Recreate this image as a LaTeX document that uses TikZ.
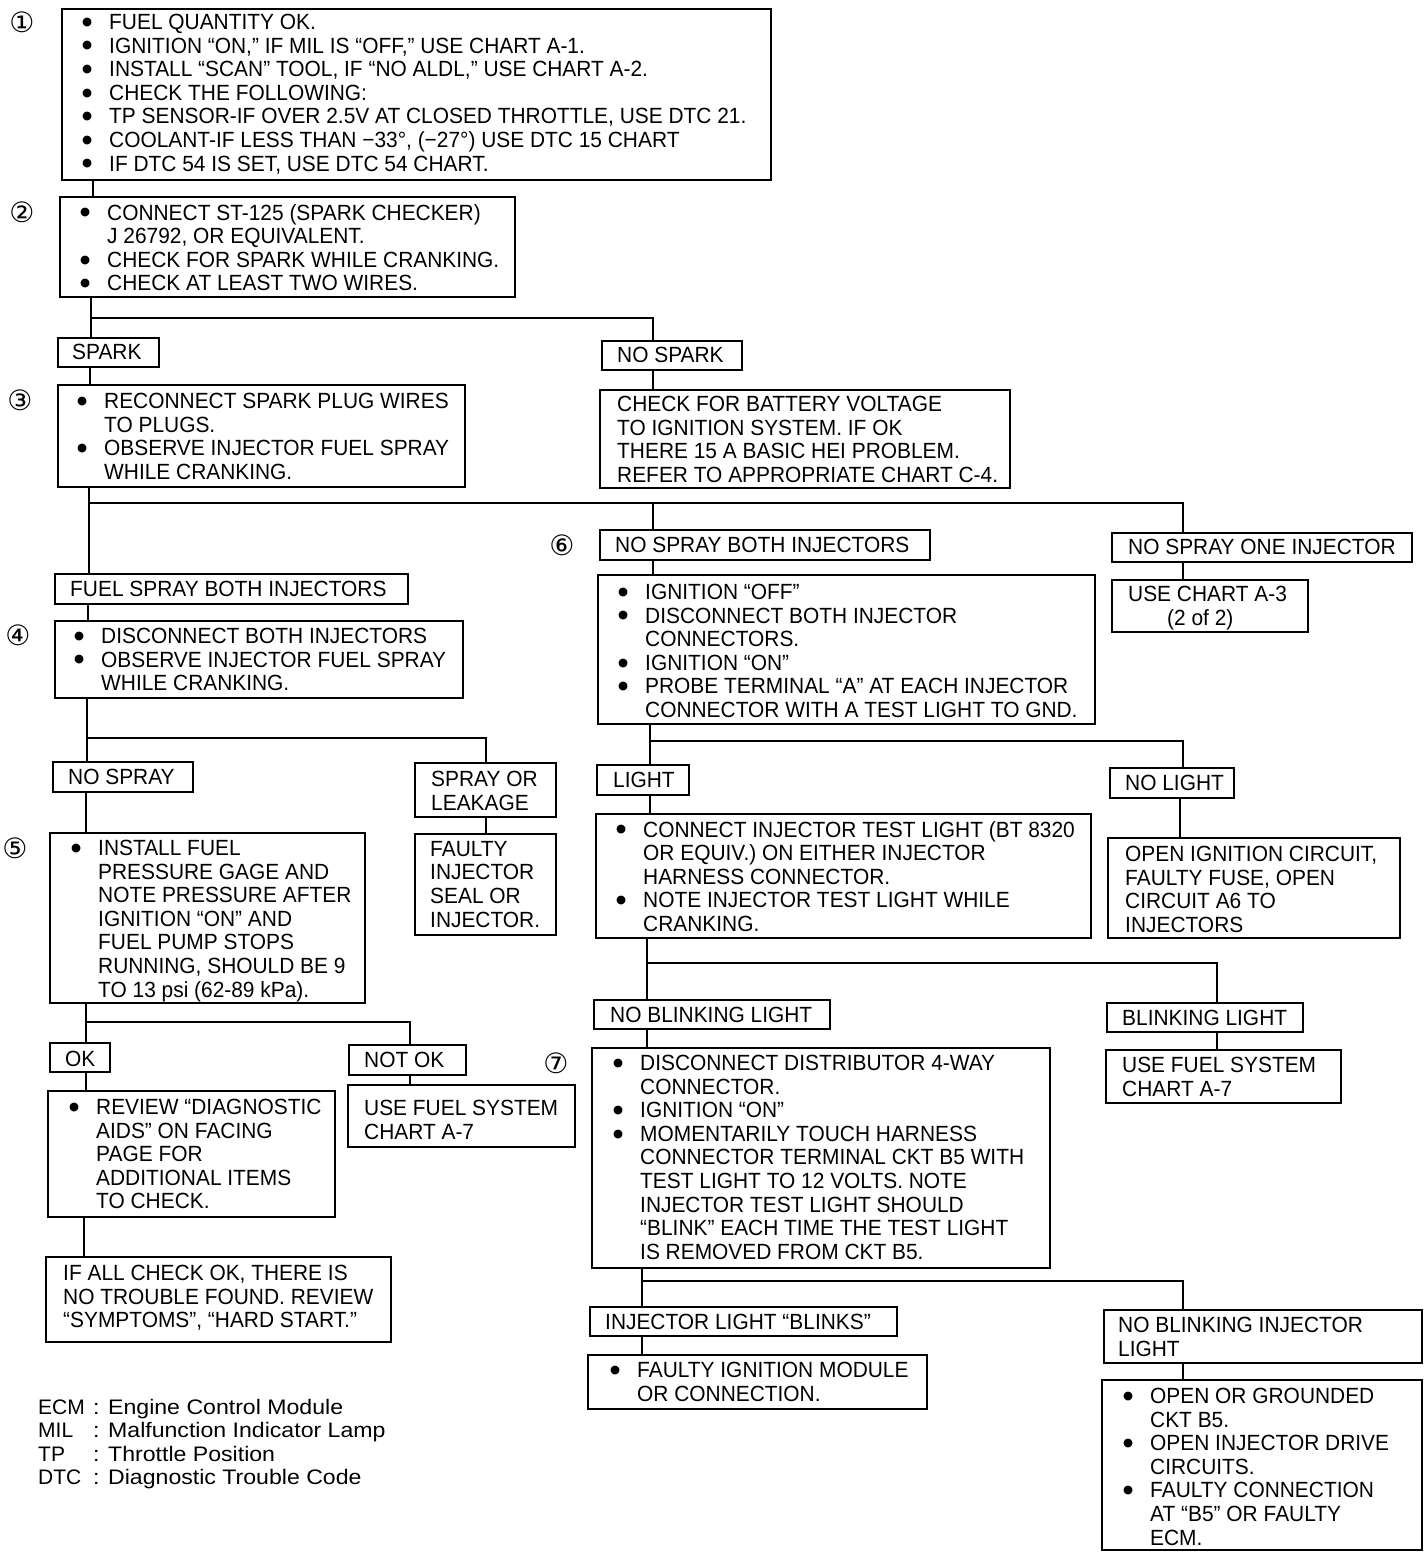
\documentclass[tikz,border=0pt]{standalone}
\usepackage{fontspec}
\setmainfont[FakeStretch=0.95]{Liberation Sans}
\newfontfamily\circfont{DejaVu Sans}
\newfontfamily\legfont[FakeStretch=1.1]{Liberation Sans}
\newfontfamily\abbrfont{Liberation Sans}
\usetikzlibrary{calc}
\newcommand{\mkbox}[5]{\node[boxst, minimum width={#4-#2}, minimum height={#5-#3}] (#1) at (#2,#3) {};}
\newcommand{\mktx}[4]{\node[txt] (#1) at (#2,#3) {#4};}
\newcommand{\bul}{\llap{\raisebox{4.2pt}{\circfont\fontsize{11.5}{11.5}\selectfont ●}\hspace{17pt}}}
\newcommand{\abbr}[1]{\makebox[55pt][l]{\abbrfont #1}}
\begin{document}
\begin{tikzpicture}[x=1pt,y=-1pt,
  boxst/.style={draw, line width=1.6pt, inner sep=0pt, outer sep=0pt, anchor=north west},
  txt/.style={anchor=north west, inner sep=0pt, align=left, font=\fontsize{22}{23.6}\selectfont},
  conn/.style={line width=1.6pt},
  num/.style={font=\circfont\fontsize{28}{28}\selectfont, inner sep=0pt},
  leg/.style={anchor=north west, inner sep=0pt, align=left, font=\legfont\fontsize{21}{23.3}\selectfont}]
\fill[white] (0,0) rectangle (1424,1560);
\useasboundingbox (0,0) rectangle (1424,1560);

% boxes
\mkbox{b1}{62}{9}{771}{180}
\mkbox{b2}{60}{197}{515}{297}
\mkbox{spark}{58}{338}{159}{367}
\mkbox{nospark}{602}{341}{742}{370}
\mkbox{b3}{58}{385}{465}{487}
\mkbox{hei}{600}{390}{1010}{488}
\mkbox{nsboth}{600}{530}{930}{560}
\mkbox{nsone}{1112}{533}{1412}{562}
\mkbox{fsboth}{55}{574}{408}{604}
\mkbox{b4}{55}{621}{463}{698}
\mkbox{b6}{598}{575}{1095}{724}
\mkbox{a3}{1112}{580}{1308}{632}
\mkbox{nospray}{53}{762}{193}{792}
\mkbox{leak}{415}{763}{556}{817}
\mkbox{b5}{50}{833}{365}{1003}
\mkbox{faulty}{415}{834}{556}{935}
\mkbox{light}{597}{765}{689}{795}
\mkbox{nolight}{1110}{768}{1234}{798}
\mkbox{blight}{596}{814}{1091}{938}
\mkbox{openign}{1108}{838}{1400}{938}
\mkbox{ok}{50}{1043}{110}{1072}
\mkbox{notok}{349}{1045}{466}{1075}
\mkbox{review}{48}{1091}{335}{1217}
\mkbox{aseven}{348}{1085}{575}{1147}
\mkbox{noblink}{594}{1000}{830}{1029}
\mkbox{blink}{1107}{1003}{1303}{1032}
\mkbox{b7}{592}{1048}{1050}{1268}
\mkbox{asevenb}{1106}{1050}{1341}{1103}
\mkbox{ifall}{46}{1257}{391}{1342}
\mkbox{blinks}{590}{1307}{897}{1336}
\mkbox{fim}{588}{1355}{927}{1409}
\mkbox{nbil}{1104}{1310}{1422}{1363}
\mkbox{final}{1102}{1380}{1422}{1550}

% texts
\mktx{t1}{109}{14}{\bul FUEL QUANTITY OK.\\
\bul IGNITION “ON,” IF MIL IS “OFF,” USE CHART A-1.\\
\bul INSTALL “SCAN” TOOL, IF “NO ALDL,” USE CHART A-2.\\
\bul CHECK THE FOLLOWING:\\
\bul TP SENSOR-IF OVER 2.5V AT CLOSED THROTTLE, USE DTC 21.\\
\bul COOLANT-IF LESS THAN −33°, (−27°) USE DTC 15 CHART\\
\bul IF DTC 54 IS SET, USE DTC 54 CHART.}
\mktx{t2}{107}{204}{\bul CONNECT ST-125 (SPARK CHECKER)\\
J 26792, OR EQUIVALENT.\\
\bul CHECK FOR SPARK WHILE CRANKING.\\
\bul CHECK AT LEAST TWO WIRES.}
\mktx{tspark}{72}{344}{SPARK}
\mktx{tnospark}{617}{347}{NO SPARK}
\mktx{t3}{104}{393}{\bul RECONNECT SPARK PLUG WIRES\\
TO PLUGS.\\
\bul OBSERVE INJECTOR FUEL SPRAY\\
WHILE CRANKING.}
\mktx{thei}{617}{396}{CHECK FOR BATTERY VOLTAGE\\
TO IGNITION SYSTEM. IF OK\\
THERE 15 A BASIC HEI PROBLEM.\\
REFER TO APPROPRIATE CHART C-4.}
\mktx{tnsboth}{615}{537}{NO SPRAY BOTH INJECTORS}
\mktx{tnsone}{1128}{539}{NO SPRAY ONE INJECTOR}
\mktx{tfsboth}{70}{581}{FUEL SPRAY BOTH INJECTORS}
\mktx{t4}{101}{628}{\bul DISCONNECT BOTH INJECTORS\\
\bul OBSERVE INJECTOR FUEL SPRAY\\
WHILE CRANKING.}
\mktx{t6}{645}{584}{\bul IGNITION “OFF”\\
\bul DISCONNECT BOTH INJECTOR\\
CONNECTORS.\\
\bul IGNITION “ON”\\
\bul PROBE TERMINAL “A” AT EACH INJECTOR\\
CONNECTOR WITH A TEST LIGHT TO GND.}
\mktx{ta3}{1128}{586}{USE CHART A-3\\
\hspace{39pt}(2 of 2)}
\mktx{tnospray}{68}{769}{NO SPRAY}
\mktx{tleak}{431}{771}{SPRAY OR\\LEAKAGE}
\mktx{t5}{98}{840}{\bul INSTALL FUEL\\
PRESSURE GAGE AND\\
NOTE PRESSURE AFTER\\
IGNITION “ON” AND\\
FUEL PUMP STOPS\\
RUNNING, SHOULD BE 9\\
TO 13 psi (62-89 kPa).}
\mktx{tfaulty}{430}{841}{FAULTY\\INJECTOR\\SEAL OR\\INJECTOR.}
\mktx{tlight}{613}{772}{LIGHT}
\mktx{tnolight}{1125}{775}{NO LIGHT}
\mktx{tblight}{643}{821}{\bul CONNECT INJECTOR TEST LIGHT (BT 8320\\
OR EQUIV.) ON EITHER INJECTOR\\
HARNESS CONNECTOR.\\
\bul NOTE INJECTOR TEST LIGHT WHILE\\
CRANKING.}
\mktx{topenign}{1125}{846}{OPEN IGNITION CIRCUIT,\\
FAULTY FUSE, OPEN\\
CIRCUIT A6 TO\\
INJECTORS}
\mktx{tok}{65}{1051}{OK}
\mktx{tnotok}{364}{1052}{NOT OK}
\mktx{treview}{96}{1099}{\bul REVIEW “DIAGNOSTIC\\
AIDS” ON FACING\\
PAGE FOR\\
ADDITIONAL ITEMS\\
TO CHECK.}
\mktx{taseven}{364}{1100}{USE FUEL SYSTEM\\CHART A-7}
\mktx{tnoblink}{610}{1007}{NO BLINKING LIGHT}
\mktx{tblink}{1122}{1010}{BLINKING LIGHT}
\mktx{t7}{640}{1055}{\bul DISCONNECT DISTRIBUTOR 4-WAY\\
CONNECTOR.\\
\bul IGNITION “ON”\\
\bul MOMENTARILY TOUCH HARNESS\\
CONNECTOR TERMINAL CKT B5 WITH\\
TEST LIGHT TO 12 VOLTS. NOTE\\
INJECTOR TEST LIGHT SHOULD\\
“BLINK” EACH TIME THE TEST LIGHT\\
IS REMOVED FROM CKT B5.}
\mktx{tasevenb}{1122}{1057}{USE FUEL SYSTEM\\CHART A-7}
\mktx{tifall}{63}{1265}{IF ALL CHECK OK, THERE IS\\
NO TROUBLE FOUND. REVIEW\\
“SYMPTOMS”, “HARD START.”}
\mktx{tblinks}{605}{1314}{INJECTOR LIGHT “BLINKS”}
\mktx{tfim}{637}{1362}{\bul FAULTY IGNITION MODULE\\
OR CONNECTION.}
\mktx{tnbil}{1118}{1317}{NO BLINKING INJECTOR\\LIGHT}
\mktx{tfinal}{1150}{1388}{\bul OPEN OR GROUNDED\\
CKT B5.\\
\bul OPEN INJECTOR DRIVE\\
CIRCUITS.\\
\bul FAULTY CONNECTION\\
AT “B5” OR FAULTY\\
ECM.}

% step numbers
\node[num] (n1) at (22,22) {①};
\node[num] (n2) at (22,212) {②};
\node[num] (n3) at (20,400) {③};
\node[num] (n4) at (18,635) {④};
\node[num] (n5) at (15,848) {⑤};
\node[num] (n6) at (562,545) {⑥};
\node[num] (n7) at (556,1063) {⑦};

% legend
\node[leg] (legend) at (38,1399) {\abbr{ECM}: Engine Control Module\\
\abbr{MIL}: Malfunction Indicator Lamp\\
\abbr{TP}: Throttle Position\\
\abbr{DTC}: Diagnostic Trouble Code};

% junctions
\coordinate (j1) at (91,318);
\coordinate (j2) at (89,503);
\coordinate (j2b) at (653,503);
\coordinate (j3) at (87,738);
\coordinate (j4) at (86,1022);
\coordinate (j5) at (650,741);
\coordinate (j6) at (647,963);
\coordinate (j7) at (642,1281);

% connectors
\draw[conn] (b1.south -| 93,0) -- (b2.north -| 93,0);
\draw[conn] (b2.south -| 91,0) -- (spark.north -| 91,0);
\draw[conn] (j1) -| (nospark.north -| 653,0);
\draw[conn] (spark.south -| 90,0) -- (b3.north -| 90,0);
\draw[conn] (nospark.south -| 653,0) -- (hei.north -| 653,0);
\draw[conn] (b3.south -| 89,0) -- (fsboth.north -| 89,0);
\draw[conn] (j2) -| (nsone.north -| 1183,0);
\draw[conn] (j2b) -- (nsboth.north -| 653,0);
\draw[conn] (nsboth.south -| 653,0) -- (b6.north -| 653,0);
\draw[conn] (nsone.south -| 1183,0) -- (a3.north -| 1183,0);
\draw[conn] (fsboth.south -| 88,0) -- (b4.north -| 88,0);
\draw[conn] (b4.south -| 87,0) -- (nospray.north -| 87,0);
\draw[conn] (j3) -| (leak.north -| 486,0);
\draw[conn] (nospray.south -| 86,0) -- (b5.north -| 86,0);
\draw[conn] (leak.south -| 486,0) -- (faulty.north -| 486,0);
\draw[conn] (b5.south -| 86,0) -- (ok.north -| 86,0);
\draw[conn] (j4) -| (notok.north -| 410,0);
\draw[conn] (ok.south -| 86,0) -- (review.north -| 86,0);
\draw[conn] (notok.south -| 410,0) -- (aseven.north -| 410,0);
\draw[conn] (review.south -| 84,0) -- (ifall.north -| 84,0);
\draw[conn] (b6.south -| 650,0) -- (light.north -| 650,0);
\draw[conn] (j5) -| (nolight.north -| 1183,0);
\draw[conn] (light.south -| 650,0) -- (blight.north -| 650,0);
\draw[conn] (nolight.south -| 1180,0) -- (openign.north -| 1180,0);
\draw[conn] (blight.south -| 647,0) -- (noblink.north -| 647,0);
\draw[conn] (j6) -| (blink.north -| 1217,0);
\draw[conn] (noblink.south -| 647,0) -- (b7.north -| 647,0);
\draw[conn] (blink.south -| 1217,0) -- (asevenb.north -| 1217,0);
\draw[conn] (b7.south -| 642,0) -- (blinks.north -| 642,0);
\draw[conn] (j7) -| (nbil.north -| 1183,0);
\draw[conn] (blinks.south -| 642,0) -- (fim.north -| 642,0);
\draw[conn] (nbil.south -| 1183,0) -- (final.north -| 1183,0);
\end{tikzpicture}
\end{document}
